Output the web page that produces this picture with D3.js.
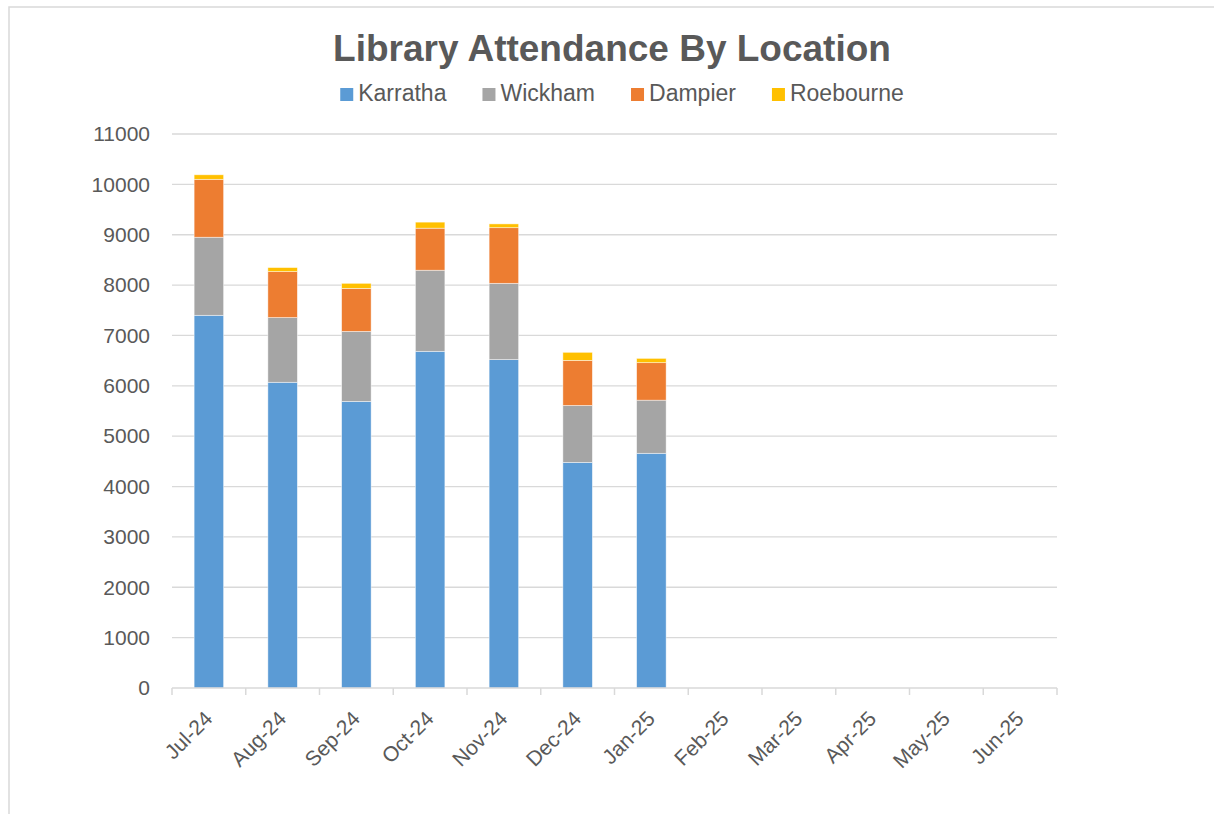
<!DOCTYPE html>
<html>
<head>
<meta charset="utf-8">
<script src="https://cdn.jsdelivr.net/npm/d3@7"></script>
<style>
    body { margin: 0; background: #fff; }
    text { font-family: "Liberation Sans", Arial, sans-serif; fill: #595959; }
</style>
</head>
<body>
<div id="chart"></div>
<script>
// Chart data
const months = ['Jul-24', 'Aug-24', 'Sep-24', 'Oct-24', 'Nov-24', 'Dec-24',
                'Jan-25', 'Feb-25', 'Mar-25', 'Apr-25', 'May-25', 'Jun-25'];
const locations = ['Karratha', 'Wickham', 'Dampier', 'Roebourne'];
const karratha = [7400, 6070, 5690, 6685, 6520, 4480, 4660];
const wickham = [1550, 1285, 1390, 1610, 1515, 1130, 1055];
const dampier = [1150, 913, 855, 835, 1105, 895, 745];
const roebourne = [90, 80, 100, 120, 75, 160, 85];
const yTicks = [0, 1000, 2000, 3000, 4000, 5000, 6000, 7000, 8000, 9000, 10000, 11000];
const colors = ['#5b9bd5', '#a5a5a5', '#ed7d31', '#ffc000'];

function createStackedChart(selector) {
    const W = 1214, H = 814;
    const margin = { top: 134, right: 157, bottom: 126, left: 172 };
    const width = W - margin.left - margin.right;
    const height = H - margin.top - margin.bottom;

    const svg = d3.select(selector)
        .append('svg')
        .attr('width', W)
        .attr('height', H);

    // Chart area border
    svg.append('rect')
        .attr('x', 9)
        .attr('y', 7)
        .attr('width', W + 20)
        .attr('height', H + 20)
        .attr('fill', 'none')
        .attr('stroke', '#d9d9d9')
        .attr('stroke-width', 1.5);

    const g = svg.append('g')
        .attr('transform', `translate(${margin.left},${margin.top})`);

    // Rows only for months that have data
    const series = [karratha, wickham, dampier, roebourne];
    const rows = karratha.map((v, i) => {
        const row = { month: months[i] };
        locations.forEach((loc, k) => { row[loc] = series[k][i]; });
        return row;
    });

    const x = d3.scaleBand()
        .domain(months)
        .range([0, width])
        .paddingInner(0.6)
        .paddingOuter(0.3);

    const y = d3.scaleLinear()
        .domain([0, 11000])
        .range([height, 0]);

    // Grid lines
    g.append('g')
        .attr('class', 'grid')
        .selectAll('line')
        .data(yTicks.filter(d => d > 0))
        .enter().append('line')
        .attr('x1', 0)
        .attr('x2', width)
        .attr('y1', d => y(d))
        .attr('y2', d => y(d))
        .attr('stroke', '#d9d9d9')
        .attr('stroke-width', 1.3);

    // Y axis labels
    const yAxis = g.append('g')
        .call(d3.axisLeft(y).tickValues(yTicks).tickSize(0).tickPadding(22).tickFormat(d3.format('d')));
    yAxis.select('.domain').remove();
    yAxis.selectAll('text')
        .style('font-size', '21px')
        .attr('fill', '#595959');

    // Stacked bars
    const stacked = d3.stack().keys(locations)(rows);
    g.selectAll('.layer')
        .data(stacked)
        .enter().append('g')
        .attr('class', 'layer')
        .attr('fill', (d, i) => colors[i])
        .selectAll('rect')
        .data(d => d)
        .enter().append('rect')
        .attr('x', d => x(d.data.month))
        .attr('y', d => y(d[1]))
        .attr('width', x.bandwidth())
        .attr('height', d => y(d[0]) - y(d[1]))
        .attr('stroke', '#fff')
        .attr('stroke-opacity', 0.6)
        .attr('stroke-width', 0.75);

    // X axis line and category boundary ticks
    const xAxis = g.append('g')
        .attr('transform', `translate(0,${height})`);
    xAxis.append('line')
        .attr('x1', 0)
        .attr('x2', width)
        .attr('stroke', '#d9d9d9')
        .attr('stroke-width', 1.5);
    xAxis.selectAll('.tick-mark')
        .data(d3.range(months.length + 1))
        .enter().append('line')
        .attr('class', 'tick-mark')
        .attr('x1', d => d * x.step())
        .attr('x2', d => d * x.step())
        .attr('y1', 0)
        .attr('y2', 7)
        .attr('stroke', '#d9d9d9')
        .attr('stroke-width', 1.5);

    // Rotated month labels
    xAxis.selectAll('.month-label')
        .data(months)
        .enter().append('text')
        .attr('class', 'month-label')
        .attr('transform', d => `translate(${x(d) + x.bandwidth() / 2 + 5},${32}) rotate(-45)`)
        .attr('text-anchor', 'end')
        .style('font-size', '21px')
        .text(d => d);

    // Title
    svg.append('text')
        .attr('x', 612)
        .attr('y', 61)
        .attr('text-anchor', 'middle')
        .style('font-size', '37px')
        .style('font-weight', 'bold')
        .text('Library Attendance By Location');

    // Legend, laid out from measured text widths and centred
    const legend = svg.append('g');
    const items = legend.selectAll('g')
        .data(locations)
        .enter().append('g');
    items.append('rect')
        .attr('y', 88)
        .attr('width', 13)
        .attr('height', 13)
        .attr('fill', (d, i) => colors[i]);
    items.append('text')
        .attr('x', 18)
        .attr('y', 101)
        .style('font-size', '23px')
        .text(d => d);

    let offset = 0;
    const gap = 36;
    items.each(function() {
        const w = 18 + d3.select(this).select('text').node().getComputedTextLength();
        d3.select(this).attr('transform', `translate(${offset},0)`);
        offset += w + gap;
    });
    const total = offset - gap;
    legend.attr('transform', `translate(${622 - total / 2},0)`);
}

createStackedChart('#chart');
</script>
</body>
</html>
